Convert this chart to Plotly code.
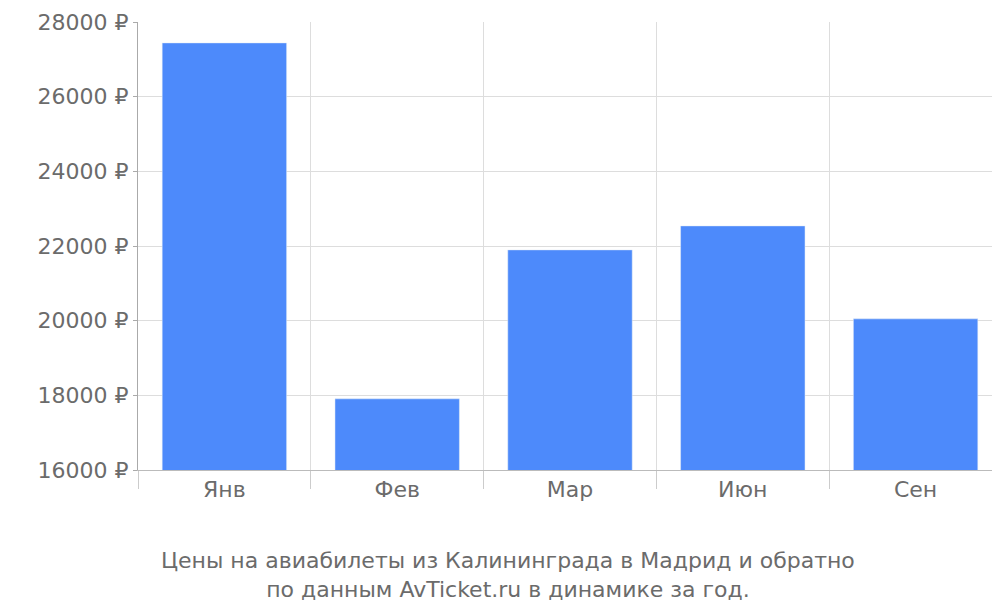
import plotly.graph_objects as go

months = ["Янв", "Фев", "Мар", "Июн", "Сен"]
prices = [27440, 17906, 21896, 22538, 20048]
yticks = [16000, 18000, 20000, 22000, 24000, 26000, 28000]
ylabels = [f"{v} ₽" for v in yticks]
caption = "Цены на авиабилеты из Калининграда в Мадрид и обратно<br>по данным AvTicket.ru в динамике за год."

fig = go.Figure()
fig.add_trace(go.Bar(x=months, y=prices, marker_color="#4d8afb", width=0.72))

fig.update_layout(
    width=1000, height=600,
    margin=dict(l=130, r=6, t=14, b=138, autoexpand=False),
    plot_bgcolor="white", paper_bgcolor="white",
    font=dict(family="DejaVu Sans", size=22, color="#6b6b6b"),
    showlegend=False,
)
fig.add_annotation(text=caption, xref="paper", yref="paper", x=(500 - 130) / 864, y=-0.17,
                   xanchor="center", yanchor="top", showarrow=False,
                   font=dict(size=22, color="#6b6b6b"))
fig.update_xaxes(
    tickson="boundaries", ticks="outside", ticklen=18, tickcolor="#cccccc",
    showgrid=True, gridcolor="#dddddd", showline=True, linecolor="#bbbbbb",
    automargin=False,
)
fig.update_yaxes(
    range=[16000, 28000], tickvals=yticks, ticktext=ylabels,
    showgrid=True, gridcolor="#dddddd", showline=True, linecolor="#aaaaaa",
    ticks="outside", ticklen=4, tickcolor="#aaaaaa", automargin=False,
)
fig.write_html("out.html")
